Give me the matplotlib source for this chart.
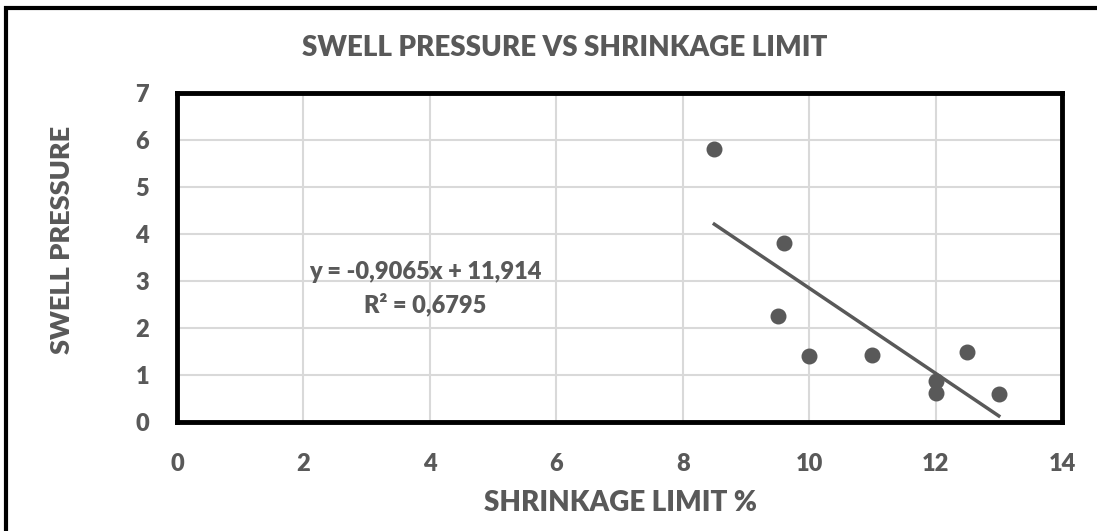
import numpy as np
import matplotlib.pyplot as plt
from matplotlib.patches import Rectangle

# data
shrinkage = [8.5, 9.6, 9.5, 10.0, 11.0, 12.5, 12.0, 12.0, 13.0]
swell = [5.8, 3.8, 2.25, 1.4, 1.42, 1.5, 0.88, 0.62, 0.6]
slope, intercept = -0.9065, 11.914
r2 = 0.6795

plt.rcParams['font.family'] = ['Lato', 'DejaVu Sans']
wt = 'heavy'
grey = '#595959'

fig = plt.figure(figsize=(10.97, 5.31), dpi=100)
W, H = 1097, 531
ax = fig.add_axes([177 / W, 1 - 422 / H, (1062 - 177) / W, (422 - 93) / H])

# outer chart frame
fig.patches.append(Rectangle((6 / W, -0.1), 1.2, 1 - 8 / H + 0.1, transform=fig.transFigure,
                             fill=False, edgecolor='black', linewidth=3))

ax.scatter(shrinkage, swell, s=110, color=grey, zorder=3)
xt = np.array([min(shrinkage), max(shrinkage)])
ax.plot(xt, slope * xt + intercept, color=grey, linewidth=2.5, zorder=2)

ax.set_xlim(0, 14)
ax.set_ylim(0, 7)
ax.set_xticks(range(0, 15, 2))
ax.set_yticks(range(0, 8))
ax.grid(color='#d9d9d9', linewidth=1.5)
ax.set_axisbelow(True)
for s in ax.spines.values():
    s.set_linewidth(3.5)
    s.set_color('black')
ax.tick_params(length=0, labelsize=17, colors=grey)
ax.tick_params(axis='x', pad=22)
ax.tick_params(axis='y', pad=20)
for lab in ax.get_xticklabels() + ax.get_yticklabels():
    lab.set_fontweight(wt)

fig.text(565 / W, 1 - 48 / H, 'SWELL PRESSURE VS SHRINKAGE LIMIT', ha='center', va='center',
         fontsize=20, color=grey, fontweight=wt)
fig.text(620 / W, 1 - 503 / H, 'SHRINKAGE LIMIT %', ha='center', va='center',
         fontsize=20, color=grey, fontweight=wt)
fig.text(62 / W, 1 - 240 / H, 'SWELL PRESSURE', ha='center', va='center', rotation=90,
         fontsize=19.5, color=grey, fontweight=wt)

eq = 'y = -{:.4f}x + {:.3f}'.format(abs(slope), intercept).replace('.', ',')
fig.text(425 / W, 1 - 272 / H, eq, ha='center', va='center', fontsize=17, color=grey, fontweight=wt)
fig.text(425 / W, 1 - 304 / H, 'R² = {:.4f}'.format(r2).replace('.', ','), ha='center', va='center',
         fontsize=17, color=grey, fontweight=wt)

fig.savefig('out.png', dpi=100)
